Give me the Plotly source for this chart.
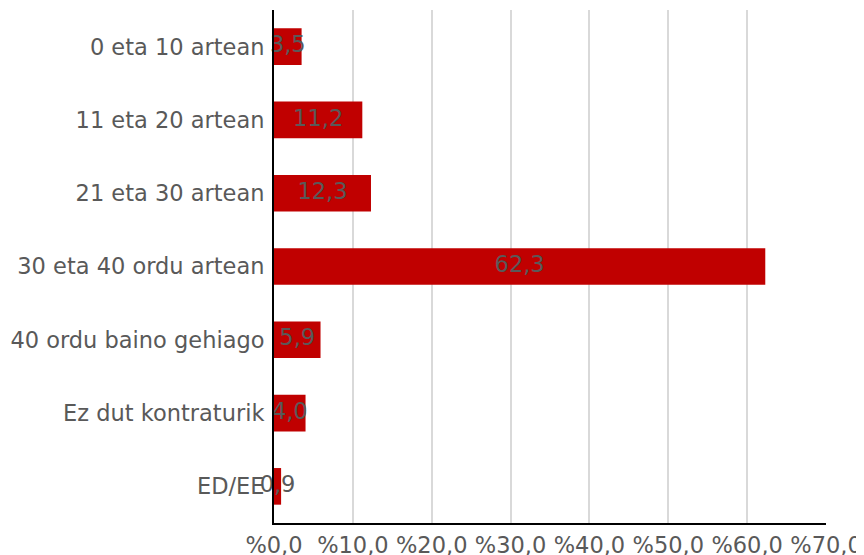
import plotly.graph_objects as go

categories = ["0 eta 10 artean", "11 eta 20 artean", "21 eta 30 artean",
              "30 eta 40 ordu artean", "40 ordu baino gehiago",
              "Ez dut kontraturik", "ED/EE"]
values = [3.5, 11.2, 12.3, 62.3, 5.9, 4.0, 0.9]
value_labels = ["3,5", "11,2", "12,3", "62,3", "5,9", "4,0", "0,9"]
tick_values = [0, 10, 20, 30, 40, 50, 60, 70]
tick_labels = ["%0,0", "%10,0", "%20,0", "%30,0", "%40,0", "%50,0", "%60,0", "%70,0"]

font_family = "DejaVu Sans, sans-serif"
grey = "#595959"
fsize = 22.5

fig = go.Figure()
fig.add_trace(go.Bar(
    y=categories, x=values, orientation="h",
    marker=dict(color="#c00000", line=dict(width=0)),
    width=0.5, hoverinfo="skip", showlegend=False,
))
fig.add_trace(go.Scatter(
    y=categories, x=[v / 2 for v in values], mode="text",
    text=value_labels, textposition="middle center",
    textfont=dict(family=font_family, size=fsize, color=grey),
    hoverinfo="skip", showlegend=False, cliponaxis=False,
))

fig.update_layout(
    width=856, height=547,
    margin=dict(l=266, r=38, t=2, b=32),
    plot_bgcolor="white", paper_bgcolor="white",
    font=dict(family=font_family, size=fsize, color=grey),
    bargap=0.5,
)
fig.update_xaxes(
    range=[0, 70], tickvals=tick_values, ticktext=tick_labels,
    showgrid=True, gridcolor="#d9d9d9", gridwidth=2,
    showline=True, linecolor="black", linewidth=2,
    zeroline=False, ticks="", ticklabelstandoff=1, automargin=False,
    tickfont=dict(family=font_family, size=fsize, color=grey),
)
fig.update_yaxes(
    categoryorder="array", categoryarray=categories, autorange="reversed",
    showline=True, linecolor="black", linewidth=2,
    showgrid=False, zeroline=False, ticks="", ticklabelstandoff=3, automargin=False,
    tickfont=dict(family=font_family, size=fsize, color=grey),
)

fig.write_html("out.html")
